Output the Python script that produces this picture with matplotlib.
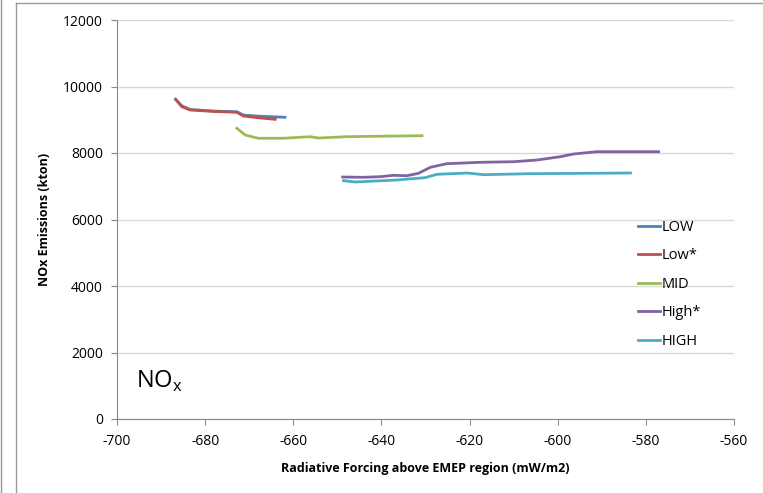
import matplotlib.pyplot as plt
from matplotlib.lines import Line2D

# Data
low_x = [-686.7, -685.3, -683.4, -678.0, -672.8, -671.3, -668.0, -661.9]
low_y = [9615, 9420, 9310, 9260, 9240, 9140, 9110, 9074]

lowstar_x = [-686.7, -685.3, -683.4, -678.0, -672.8, -671.3, -668.0, -664.1]
lowstar_y = [9615, 9392, 9293, 9250, 9224, 9113, 9060, 9013]

mid_x = [-672.8, -670.9, -667.9, -662.0, -656.2, -654.3, -647.9, -640.0, -630.8]
mid_y = [8743, 8541, 8442, 8445, 8490, 8451, 8490, 8505, 8520]

highstar_x = [-648.8, -644.1, -640.0, -637.3, -634.2, -631.6, -628.9, -625.2,
              -617.6, -610.0, -604.7, -599.4, -596.4, -591.1, -577.1]
highstar_y = [7278, 7269, 7290, 7329, 7317, 7389, 7570, 7678,
              7720, 7738, 7789, 7889, 7970, 8039, 8039]

high_x = [-648.6, -646.0, -636.5, -630.1, -627.4, -620.6, -616.8, -606.2, -583.5]
high_y = [7168, 7128, 7188, 7258, 7359, 7398, 7348, 7378, 7398]

series = [
    ('LOW', low_x, low_y, '#4F81BD'),
    ('Low*', lowstar_x, lowstar_y, '#C0504D'),
    ('MID', mid_x, mid_y, '#9BBB59'),
    ('High*', highstar_x, highstar_y, '#8064A2'),
    ('HIGH', high_x, high_y, '#4BACC6'),
]

plt.rcParams['font.family'] = ['Open Sans', 'DejaVu Sans']
plt.rcParams['axes.unicode_minus'] = False

fig = plt.figure(figsize=(7.63, 4.93), dpi=100)
ax = fig.add_axes([117/763, 1-419/493, (734-117)/763, (419-20)/493])

for name, xs, ys, c in series:
    ax.plot(xs, ys, color=c, lw=2, label=name)

ax.set_xlim(-700, -560)
ax.set_ylim(0, 12000)
ax.set_xticks(range(-700, -559, 20))
ax.set_yticks(range(0, 12001, 2000))
ax.yaxis.grid(True, color='#D9D9D9', lw=1)
ax.set_axisbelow(True)
for s in ['top', 'right']:
    ax.spines[s].set_visible(False)
for s in ['left', 'bottom']:
    ax.spines[s].set_color('#888888')
ax.tick_params(direction='out', length=4, color='#888888', labelsize=10)
ax.tick_params(axis='x', pad=7)
ax.tick_params(axis='y', pad=6)

ax.set_xlabel('Radiative Forcing above EMEP region (mW/m2)', fontsize=9, fontweight='bold', labelpad=9)
ax.set_ylabel('NOx Emissions (kton)', fontsize=9, fontweight='bold', labelpad=9)

ax.text(136/763, 1-388/493, r'NO$_\mathregular{x}$', transform=fig.transFigure,
        fontsize=17, va='baseline', ha='left')

fig.legend(loc='upper left', bbox_to_anchor=(638/763, 1-220/493), frameon=False,
           fontsize=10.5, handlelength=1.5, handletextpad=0.1, labelspacing=0.92,
           borderpad=0, borderaxespad=0)

# outer frame lines
fig.add_artist(Line2D([16/763, 16/763], [0, 1-3/493], color='#999999', lw=1))
fig.add_artist(Line2D([16/763, 1], [1-3/493, 1-3/493], color='#999999', lw=1))
fig.add_artist(Line2D([1.5/763, 1.5/763], [0, 1], color='#999999', lw=1))

fig.savefig('out.png', dpi=100)
